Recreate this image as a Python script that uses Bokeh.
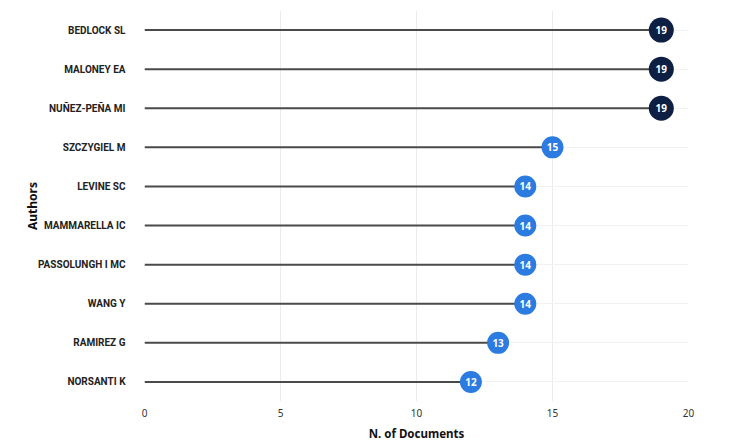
from bokeh.plotting import figure
from bokeh.models import ColumnDataSource, Range1d, FactorRange
from bokeh.embed import file_html
from bokeh.resources import INLINE
from bokeh.core.properties import value

authors = ["BEDLOCK SL", "MALONEY EA", "NUÑEZ-PEÑA MI", "SZCZYGIEL M", "LEVINE SC",
           "MAMMARELLA IC", "PASSOLUNGH I MC", "WANG Y", "RAMIREZ G", "NORSANTI K"]
documents = [19, 19, 19, 15, 14, 14, 14, 14, 13, 12]

top_color = "#0e1f44"
other_color = "#2b7be0"
colors = [top_color if d == max(documents) else other_color for d in documents]
sizes = [25 if d == max(documents) else 22 for d in documents]

src = ColumnDataSource(dict(
    author=authors, docs=documents, zero=[0] * len(authors),
    color=colors, size=sizes, label=[str(d) for d in documents],
))

p = figure(
    width=714, height=443,
    y_range=FactorRange(factors=list(reversed(authors))),
    x_range=Range1d(0, 20),
    output_backend="svg", toolbar_location=None,
    min_border_left=144, min_border_right=26, min_border_top=10, min_border_bottom=40,
)
p.outline_line_color = None
p.background_fill_color = "white"
p.border_fill_color = "white"

p.segment(x0="zero", y0="author", x1="docs", y1="author", source=src,
          line_color="#4a4a4a", line_width=2)
p.scatter(x="docs", y="author", size="size", color="color", source=src, line_color=None)
p.text(x="docs", y="author", text="label", source=src, text_color="white",
       text_font=value("Noto Sans"), text_font_style="bold", text_font_size="10px",
       text_align="center", text_baseline="middle")

p.xaxis.ticker = [0, 5, 10, 15, 20]
p.xaxis.axis_line_color = None
p.xaxis.major_tick_line_color = None
p.xaxis.minor_tick_line_color = None
p.xaxis.major_label_text_font = "Noto Sans"
p.xaxis.major_label_text_font_size = "10px"
p.xaxis.major_label_text_color = "#333333"
p.xaxis.major_label_standoff = 1
p.xaxis.axis_label = "N. of Documents"
p.xaxis.axis_label_text_font = "Noto Sans"
p.xaxis.axis_label_text_font_style = "bold"
p.xaxis.axis_label_text_font_size = "11.5px"
p.xaxis.axis_label_text_color = "#111111"
p.xaxis.axis_label_standoff = 6

p.yaxis.axis_line_color = None
p.yaxis.major_tick_line_color = None
p.yaxis.minor_tick_line_color = None
p.yaxis.major_label_text_font = "Roboto"
p.yaxis.major_label_text_font_style = "bold"
p.yaxis.major_label_text_font_size = "10px"
p.yaxis.major_label_text_color = "#222222"
p.yaxis.major_label_standoff = 13
p.yaxis.axis_label = "Authors"
p.yaxis.axis_label_text_font = "Noto Sans"
p.yaxis.axis_label_text_font_style = "bold"
p.yaxis.axis_label_text_font_size = "12px"
p.yaxis.axis_label_text_color = "#111111"
p.yaxis.axis_label_standoff = -6

p.xgrid.grid_line_color = "#ececec"
p.ygrid.grid_line_color = "#f2f2f2"

open("out.html", "w").write(file_html(p, INLINE))
